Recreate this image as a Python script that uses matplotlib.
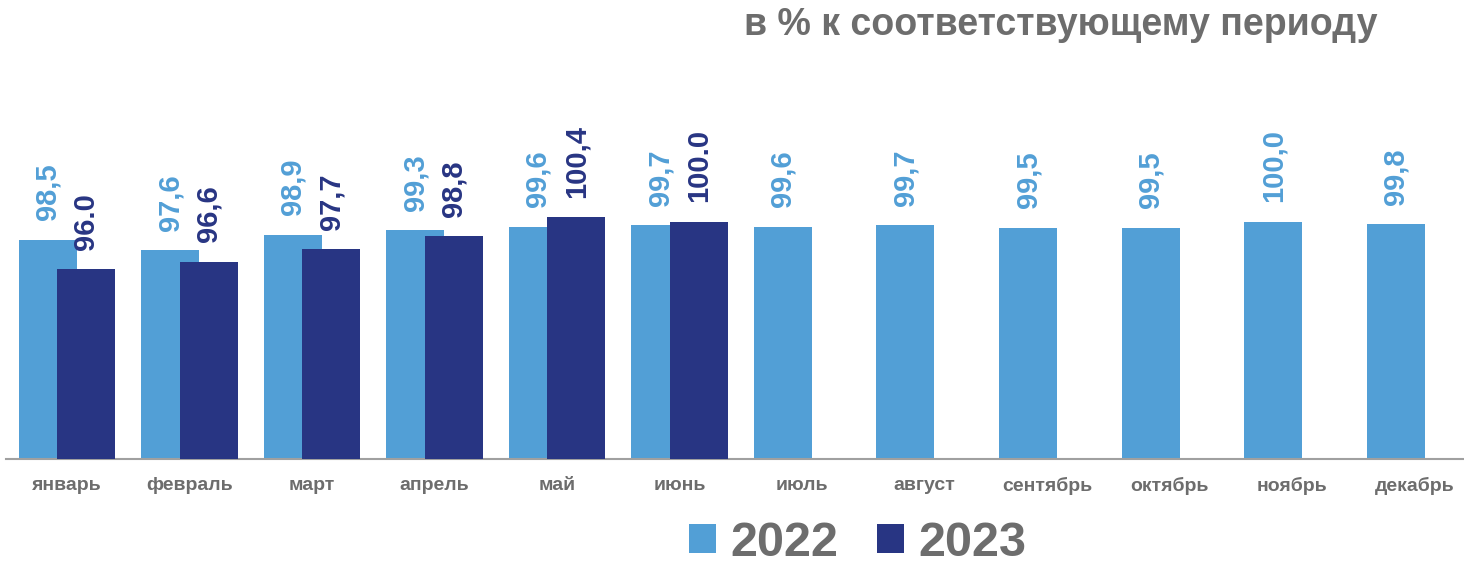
import matplotlib.pyplot as plt
from matplotlib.patches import Patch
import numpy as np

months = ['январь', 'февраль', 'март', 'апрель', 'май', 'июнь',
          'июль', 'август', 'сентябрь', 'октябрь', 'ноябрь', 'декабрь']
vals_2022 = [98.5, 97.6, 98.9, 99.3, 99.6, 99.7, 99.6, 99.7, 99.5, 99.5, 100.0, 99.8]
vals_2023 = [96.0, 96.6, 97.7, 98.8, 100.4, 100.0]
labels_2022 = ['98,5', '97,6', '98,9', '99,3', '99,6', '99,7', '99,6', '99,7', '99,5', '99,5', '100,0', '99,8']
labels_2023 = ['96.0', '96,6', '97,7', '98,8', '100,4', '100.0']

light = '#529fd6'
navy = '#283583'
gray = '#6d6d6d'

plt.rcParams['font.family'] = ['Liberation Sans', 'DejaVu Sans']

fig = plt.figure(figsize=(14.64, 5.65), dpi=100)
ax = fig.add_axes([5.5 / 1464, 106 / 565, 1 - 5.5 / 1464, 359 / 565])

x = np.arange(len(months))
w = 0.473
off = 0.157
b1 = ax.bar(x - off, vals_2022, w, color=light, zorder=2)
b2 = ax.bar(x[:len(vals_2023)] + off, vals_2023, w, color=navy, zorder=3)

# подписи значений над столбцами
for bars, labs, col in [(b1, labels_2022, light), (b2, labels_2023, navy)]:
    for rect, lab in zip(bars, labs):
        ax.annotate(lab, (rect.get_x() + rect.get_width() / 2, rect.get_height()),
                    xytext=(0, 14), textcoords='offset points', rotation=90,
                    ha='center', va='bottom', fontsize=21, fontweight='bold', color=col)

ax.set_ylim(79.9, 79.9 + 359 / 11.8)
ax.set_xlim(-0.5, 11.4)
ax.set_xticks(x)
ax.set_xticklabels(months, fontsize=14, fontweight='bold', color=gray)
ax.tick_params(axis='x', length=0, pad=13)
ax.set_yticks([])
for s in ['top', 'right', 'left']:
    ax.spines[s].set_visible(False)
ax.spines['bottom'].set_color('#a0a0a0')
ax.spines['bottom'].set_linewidth(1.5)

fig.text(1378 / 1464, 1 - 25 / 565, 'в % к соответствующему периоду', ha='right', va='center',
         fontsize=27, fontweight='bold', color=gray)

handles = [Patch(facecolor=light), Patch(facecolor=navy)]
fig.legend(handles, ['2022', '2023'], loc='center', bbox_to_anchor=(858 / 1464, 1 - 543 / 565),
           ncol=2, frameon=False, prop={'size': 35, 'weight': 'bold'}, labelcolor=gray,
           handlelength=0.55, handleheight=0.55, handletextpad=0.3, columnspacing=0.8,
           borderpad=0, borderaxespad=0)

fig.savefig('out.png', dpi=100)
